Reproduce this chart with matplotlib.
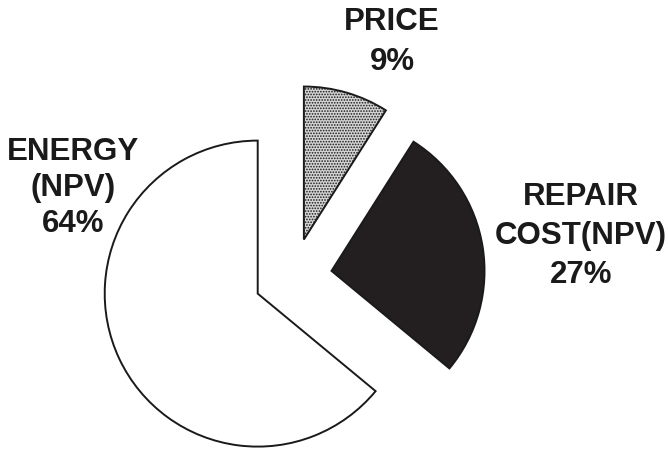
import matplotlib
matplotlib.use("Agg")
import matplotlib.pyplot as plt

labels = ["PRICE", "REPAIR\nCOST(NPV)", "ENERGY\n(NPV)"]
values = [9, 27, 64]
pct_labels = ["9%", "27%", "64%"]

plt.rcParams["hatch.color"] = "#4a4a4a"
plt.rcParams["hatch.linewidth"] = 0.8

fig = plt.figure(figsize=(6.68, 4.52), dpi=100)
ax = fig.add_axes([0, 0, 1, 1])

colors = ["#d4d4d4", "#231f20", "#ffffff"]
wedges, _ = ax.pie(values, startangle=90, counterclock=False,
                   center=(293, 174), radius=153, explode=[39, 39, 39],
                   colors=colors, frame=True,
                   wedgeprops=dict(edgecolor="#1a1a1a", linewidth=1.4))
wedges[0].set_hatch("......")
ax.set_xlim(0, 668)
ax.set_ylim(0, 452)
ax.set_aspect("equal")
ax.axis("off")

font = dict(family=["Liberation Sans", "DejaVu Sans"], fontweight="bold",
            fontsize=22.5, color="#1a1a1a", ha="center", va="center")
ax.text(392, 452 - 42, labels[0] + "\n" + pct_labels[0], linespacing=1.45, **font)
ax.text(581, 452 - 236, labels[1] + "\n" + pct_labels[1], linespacing=1.38, **font)
ax.text(73, 452 - 188, labels[2] + "\n" + pct_labels[2], linespacing=1.28, **font)

fig.savefig("out.png", dpi=100)
